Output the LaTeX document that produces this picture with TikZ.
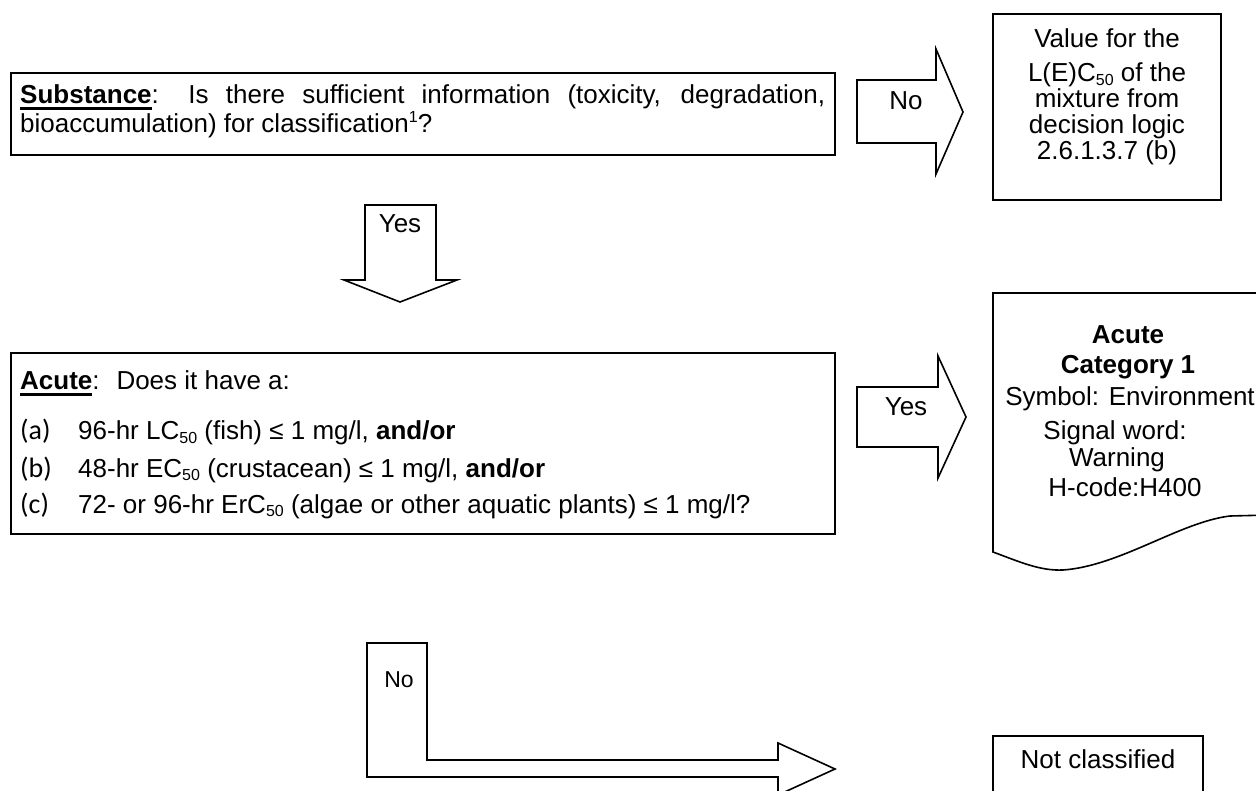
\documentclass[tikz,border=0pt]{standalone}
\usepackage{fontspec}
\setmainfont{Liberation Sans}
\newfontfamily\calib{Carlito}
\newsavebox\ulbx
\newcommand{\myul}[1]{\sbox\ulbx{#1}\rlap{\rule[-6pt]{\wd\ulbx}{2.5pt}}\usebox\ulbx}
\newcommand{\lsub}[1]{\raisebox{-3.5pt}{\fontsize{16}{16}\selectfont #1}}
\newcommand{\lsup}[1]{\raisebox{10pt}{\fontsize{16}{16}\selectfont #1}}
\begin{document}
\begin{tikzpicture}[x=1pt,y=-1pt,
  every node/.style={font={\fontsize{26}{30}\selectfont}, inner sep=0pt},
  box/.style={draw, line width=2.2pt},
  barrow/.style={draw, line width=1.6pt, line join=miter, fill=white},
  tb/.style={anchor=base},
  tw/.style={anchor=base west},
  par/.style={font={\fontsize{28}{30}\selectfont\calib}, anchor=base west}]
\useasboundingbox (0,0) rectangle (1256,791);
\clip (0,0) rectangle (1256,791);
\fill[white] (0,0) rectangle (1256,791);

% Substance box
\node[box, minimum width=824pt, minimum height=82pt] (subst) at (423,114) {};
\node[tw] (s1) at (20,104) {\makebox[805pt][s]{\myul{\textbf{Substance}}: Is there sufficient information (toxicity, degradation,}};
\node[tw] (s2) at (20,133) {bioaccumulation) for classification\lsup{1}?};

% No arrow (top)
\path[barrow] (857,80) -- (936,80) -- (936,49) -- (963,112) -- (936,174) -- (936,143) -- (857,143) -- cycle;
\node[tb] (no1) at (906,110) {No};

% Value box
\node[box, minimum width=228pt, minimum height=186pt] (value) at (1107,107) {};
\node[tb] (v1) at (1107,48) {Value for the};
\node[tb] (v2) at (1107,82) {L(E)C\lsub{50} of the};
\node[tb] (v3) at (1107,108) {mixture from};
\node[tb] (v4) at (1107,134) {decision logic};
\node[tb] (v5) at (1107,160) {2.6.1.3.7 (b)};

% Yes arrow (down)
\path[barrow] (365,205) -- (436,205) -- (436,280) -- (457,280) -- (400,302) -- (344,280) -- (365,280) -- cycle;
\node[tb] (yes1) at (400,233) {Yes};

% Acute box
\node[box, minimum width=824pt, minimum height=181pt] (acute) at (423,443.5) {};
\node[tw] (a0) at (20,390) {\myul{\textbf{Acute}}:~ Does it have a:};
\node[par] (pa) at (20,440) {(a)};
\node[tw] (ta) at (78,440) {96-hr LC\lsub{50} (fish) ≤ 1 mg/l, \textbf{and/or}};
\node[par] (pb) at (20,477) {(b)};
\node[tw] (tbb) at (78,477) {48-hr EC\lsub{50} (crustacean) ≤ 1 mg/l, \textbf{and/or}};
\node[par] (pc) at (20,513) {(c)};
\node[tw] (tc) at (78,513) {72- or 96-hr ErC\lsub{50} (algae or other aquatic plants) ≤ 1 mg/l?};

% Yes arrow (right)
\path[barrow] (857,387) -- (938,387) -- (938,356) -- (966,417) -- (938,478) -- (938,447) -- (857,447) -- cycle;
\node[tb] (yes2) at (906,416) {Yes};

% Category box (document shape)
\draw[line width=1.6pt] (1270,293) -- (993,293) -- (993,552)
  .. controls (1020,562) and (1040,571) .. (1063,570)
  .. controls (1120,566) and (1180,522) .. (1230,516) -- (1270,515);
\node[tb] (c1) at (1128,344) {\textbf{Acute}};
\node[tb] (c2) at (1128,374) {\textbf{Category 1}};
\node[tb] (c3) at (1130,406) {Symbol: Environment};
\node[tb] (c4) at (1115,439) {Signal word:};
\node[tb] (c5) at (1117,466) {Warning};
\node[tb] (c6) at (1125,496) {H-code:H400};

% No L-arrow
\path[barrow] (367,643) -- (427,643) -- (427,760) -- (778,760) -- (778,743) -- (835,769) -- (778,795) -- (778,777) -- (367,777) -- cycle;
\node[tb, font={\fontsize{23}{26}\selectfont}] (no2) at (399,687) {No};

% Not classified box
\draw[line width=2.2pt] (993,800) -- (993,736) -- (1203,736) -- (1203,800);
\node[tb] (nc) at (1098,768) {Not classified};
\end{tikzpicture}
\end{document}
